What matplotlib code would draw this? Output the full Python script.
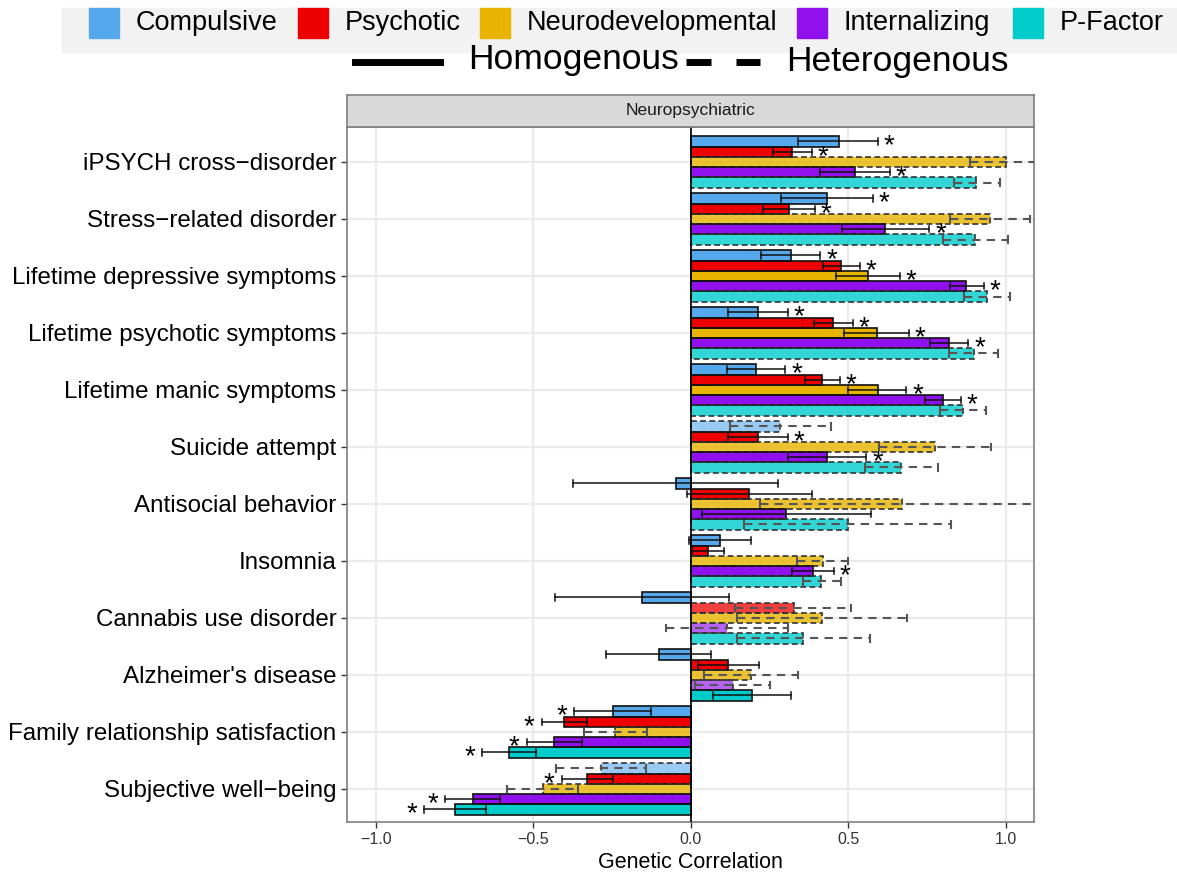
import matplotlib
matplotlib.use("Agg")
import matplotlib.pyplot as plt
from matplotlib.patches import Rectangle
from matplotlib.lines import Line2D
import numpy as np

plt.rcParams['font.family'] = ['Liberation Sans', 'DejaVu Sans']

# traits, top to bottom
traits = [
    "iPSYCH cross\u2212disorder", "Stress\u2212related disorder",
    "Lifetime depressive symptoms", "Lifetime psychotic symptoms",
    "Lifetime manic symptoms", "Suicide attempt", "Antisocial behavior",
    "Insomnia", "Cannabis use disorder", "Alzheimer's disease",
    "Family relationship satisfaction", "Subjective well\u2212being",
]
factors = ["Compulsive", "Psychotic", "Neurodevelopmental", "Internalizing", "P-Factor"]
colors = ["#55A8EC", "#EE0000", "#E8B400", "#9010EE", "#00CCCC"]

# genetic correlations, one row per trait, columns follow `factors`
rg = [
    [0.469, 0.321, 1.000, 0.521, 0.904],
    [0.433, 0.311, 0.950, 0.617, 0.901],
    [0.316, 0.477, 0.561, 0.874, 0.940],
    [0.214, 0.451, 0.589, 0.820, 0.897],
    [0.206, 0.417, 0.593, 0.800, 0.864],
    [0.283, 0.213, 0.774, 0.433, 0.667],
    [-0.049, 0.184, 0.671, 0.303, 0.497],
    [0.091, 0.053, 0.419, 0.386, 0.413],
    [-0.156, 0.326, 0.416, 0.114, 0.357],
    [-0.103, 0.119, 0.190, 0.133, 0.193],
    [-0.249, -0.403, -0.241, -0.434, -0.577],
    [-0.286, -0.330, -0.471, -0.693, -0.750],
]
ci_low = [
    [0.340, 0.259, 0.886, 0.409, 0.836],
    [0.286, 0.230, 0.823, 0.479, 0.801],
    [0.223, 0.420, 0.459, 0.823, 0.866],
    [0.119, 0.391, 0.486, 0.760, 0.819],
    [0.113, 0.361, 0.500, 0.743, 0.791],
    [0.123, 0.116, 0.597, 0.309, 0.553],
    [-0.374, -0.014, 0.219, 0.036, 0.169],
    [-0.005, 0.004, 0.336, 0.320, 0.357],
    [-0.431, 0.139, 0.147, -0.080, 0.147],
    [-0.270, 0.023, 0.040, 0.014, 0.069],
    [-0.371, -0.474, -0.340, -0.521, -0.663],
    [-0.429, -0.411, -0.583, -0.780, -0.847],
]
ci_high = [
    [0.594, 0.383, 1.150, 0.633, 0.980],
    [0.579, 0.394, 1.076, 0.757, 1.007],
    [0.411, 0.536, 0.663, 0.929, 1.014],
    [0.309, 0.513, 0.693, 0.881, 0.976],
    [0.300, 0.473, 0.684, 0.856, 0.937],
    [0.443, 0.309, 0.951, 0.557, 0.784],
    [0.276, 0.384, 1.150, 0.570, 0.827],
    [0.189, 0.106, 0.500, 0.453, 0.476],
    [0.120, 0.509, 0.687, 0.309, 0.569],
    [0.064, 0.216, 0.341, 0.251, 0.317],
    [-0.127, -0.330, -0.141, -0.346, -0.491],
    [-0.143, -0.249, -0.359, -0.607, -0.651],
]
# 1 = heterogenous (dashed), 0 = homogenous (solid)
hetero = [
    [0, 0, 1, 0, 1],
    [0, 0, 1, 0, 1],
    [0, 0, 0, 0, 1],
    [0, 0, 0, 0, 1],
    [0, 0, 0, 0, 1],
    [1, 0, 1, 0, 1],
    [0, 0, 1, 0, 1],
    [0, 0, 1, 0, 1],
    [0, 1, 1, 1, 1],
    [0, 0, 1, 1, 0],
    [0, 0, 1, 0, 0],
    [1, 0, 1, 0, 0],
]
signif = [
    [1, 1, 0, 1, 0],
    [1, 1, 0, 1, 0],
    [1, 1, 1, 1, 0],
    [1, 1, 1, 1, 0],
    [1, 1, 1, 1, 0],
    [0, 1, 0, 1, 0],
    [0, 0, 0, 0, 0],
    [0, 0, 0, 1, 0],
    [0, 0, 0, 0, 0],
    [0, 0, 0, 0, 0],
    [1, 1, 0, 1, 1],
    [0, 1, 0, 1, 1],
]
# fill opacity per bar
alpha = [
    [1, 1, .8, 1, .8],
    [1, 1, .8, 1, .8],
    [1, 1, 1, 1, .8],
    [1, 1, 1, 1, .8],
    [1, 1, 1, 1, .8],
    [.6, 1, .8, 1, .8],
    [1, 1, .8, 1, .8],
    [1, 1, .8, 1, .8],
    [1, .75, .8, .65, .8],
    [1, 1, .8, .65, 1],
    [1, 1, .8, 1, 1],
    [.6, 1, .8, 1, 1],
]

W, H = 1177, 873
fig = plt.figure(figsize=(W / 100, H / 100), dpi=100)


def fx(px):
    return px / W


def fy(py):
    return 1 - py / H


ax = fig.add_axes([fx(347), fy(822), fx(1034 - 347), (822 - 127) / H])
strip = fig.add_axes([fx(347), fy(127), fx(1034 - 347), (127 - 95) / H])

n_f = len(factors)
bh = 0.18
offsets = (np.arange(n_f) - (n_f - 1) / 2) * bh
ypos = np.arange(len(traits))
cap = 0.055

for i, t in enumerate(traits):
    for j in range(n_f):
        y = ypos[i] + offsets[j]
        v = rg[i][j]
        het = hetero[i][j]
        ls = (0, (3.5, 2)) if het else '-'
        ax.barh(y, v, height=bh, color=colors[j], alpha=alpha[i][j], zorder=2)
        ax.barh(y, v, height=bh, fill=False, edgecolor='#333333' if het else '#111111',
                linewidth=1.2, linestyle=ls, zorder=3)
        lo, hi = ci_low[i][j], ci_high[i][j]
        ec = '#555555' if het else '#111111'
        els = (0, (4, 3)) if het else '-'
        lw = 1.5 if het else 1.1
        ax.plot([lo, hi], [y, y], color=ec, lw=lw, ls=els, zorder=4, clip_on=True)
        ax.plot([lo, lo], [y - cap, y + cap], color=ec, lw=lw, zorder=4)
        if hi < 1.09:
            ax.plot([hi, hi], [y - cap, y + cap], color=ec, lw=lw, zorder=4)
        if signif[i][j]:
            sx = hi + 0.035 if v > 0 else lo - 0.04
            ax.text(sx, y + 0.09, "*", fontsize=20, ha='center', va='center', zorder=5)

ax.axvline(0, color='black', lw=1.2, zorder=3)
ax.set_xlim(-1.092, 1.089)
ax.set_ylim(len(traits) - 1 + 0.58, -0.614)
ax.set_xticks([-1.0, -0.5, 0.0, 0.5, 1.0])
ax.set_xticklabels(["\u22121.0", "\u22120.5", "0.0", "0.5", "1.0"], fontsize=11.5, color='#333333')
ax.set_yticks(ypos)
ax.set_yticklabels(traits, fontsize=17.4)
ax.tick_params(axis='both', length=4, width=1, color='#333333')
ax.tick_params(axis='x', pad=3)
ax.grid(True, color='#EBEBEB', lw=1.6, zorder=0)
ax.set_axisbelow(True)
for s in ax.spines.values():
    s.set_color('#7F7F7F')
    s.set_linewidth(1.2)
ax.set_xlabel("Genetic Correlation", fontsize=15.5, labelpad=4)

strip.set_facecolor('#D9D9D9')
strip.set_xticks([])
strip.set_yticks([])
for s in strip.spines.values():
    s.set_color('#7F7F7F')
    s.set_linewidth(1.2)
strip.text(0.5, 0.5, "Neuropsychiatric", fontsize=12.5, color='#1A1A1A',
           ha='center', va='center', transform=strip.transAxes)

# factor legend band
fig.patches.append(Rectangle((fx(62), fy(52)), fx(W - 62), 44 / H,
                             transform=fig.transFigure, color='#F2F2F2', zorder=0))
key_x = [89, 298, 480, 797, 1013]
for kx, name, c in zip(key_x, factors, colors):
    fig.patches.append(Rectangle((fx(kx), fy(38)), fx(30), 30 / H,
                                 transform=fig.transFigure, color=c, zorder=1))
    fig.text(fx(kx + 47), fy(23), name, fontsize=19.5, ha='left', va='center')

# line-type legend
fig.add_artist(Line2D([fx(355), fx(440)], [fy(62), fy(62)], color='black', lw=5,
                      transform=fig.transFigure))
fig.text(fx(468), fy(60), "Homogenous", fontsize=25.5, ha='left', va='center')
fig.add_artist(Line2D([fx(686), fx(760)], [fy(62), fy(62)], color='black', lw=5,
                      ls=(0, (3.6, 3.6)), transform=fig.transFigure))
fig.text(fx(786), fy(62), "Heterogenous", fontsize=25.5, ha='left', va='center')

fig.savefig("out.png", dpi=100)
